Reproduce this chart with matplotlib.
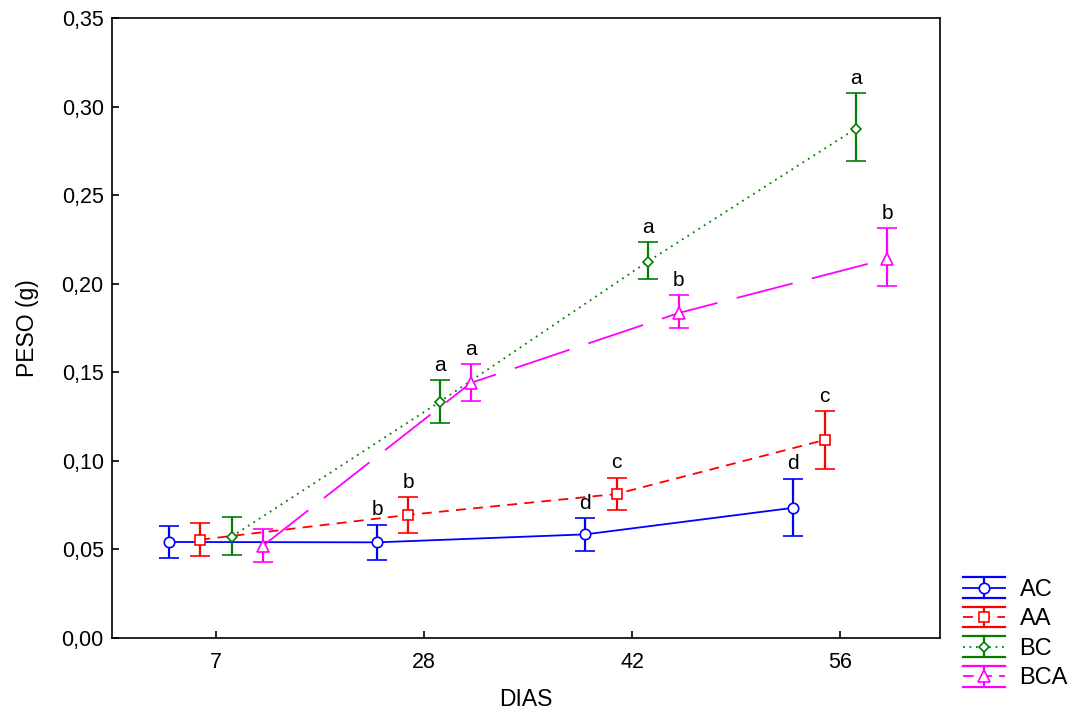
import numpy as np
import matplotlib.pyplot as plt
from matplotlib.ticker import FuncFormatter
from matplotlib.legend_handler import HandlerBase
from matplotlib.lines import Line2D

plt.rcParams['font.family'] = ['Liberation Sans', 'DejaVu Sans']

dias = ['7', '28', '42', '56']
series = ['AC', 'AA', 'BC', 'BCA']

ac_mean = [0.0542, 0.0540, 0.0585, 0.0735]
ac_lo = [0.0450, 0.0440, 0.0490, 0.0575]
ac_hi = [0.0635, 0.0640, 0.0675, 0.0900]
ac_letters = ['', 'b', 'd', 'd']

aa_mean = [0.0555, 0.0695, 0.0813, 0.1118]
aa_lo = [0.0465, 0.0595, 0.0720, 0.0955]
aa_hi = [0.0650, 0.0795, 0.0905, 0.1280]
aa_letters = ['', 'b', 'c', 'c']

bc_mean = [0.0572, 0.1333, 0.2125, 0.2875]
bc_lo = [0.0470, 0.1215, 0.2025, 0.2690]
bc_hi = [0.0685, 0.1455, 0.2235, 0.3075]
bc_letters = ['', 'a', 'a', 'a']

bca_mean = [0.0520, 0.1440, 0.1835, 0.2140]
bca_lo = [0.0430, 0.1340, 0.1750, 0.1985]
bca_hi = [0.0615, 0.1545, 0.1935, 0.2315]
bca_letters = ['', 'a', 'b', 'b']

styles = {
    'AC': dict(color='#0000ff', ls='-', marker='o', ms=7.5),
    'AA': dict(color='#ff0000', ls=(0, (5.5, 4)), marker='s', ms=7),
    'BC': dict(color='#007f00', ls=(0, (1, 2.6)), marker='D', ms=5.5),
    'BCA': dict(color='#ff00ff', ls=(0, (32, 11)), marker='^', ms=8),
}
offsets = [-0.225, -0.075, 0.075, 0.225]

data = [
    ('AC', ac_mean, ac_lo, ac_hi, ac_letters),
    ('AA', aa_mean, aa_lo, aa_hi, aa_letters),
    ('BC', bc_mean, bc_lo, bc_hi, bc_letters),
    ('BCA', bca_mean, bca_lo, bca_hi, bca_letters),
]


class ErrHandler(HandlerBase):
    # Statistica-like legend key: caps spanning the whole key width
    def __init__(self, st):
        super().__init__()
        self.st = st

    def create_artists(self, legend, orig_handle, xdescent, ydescent,
                       width, height, fontsize, trans):
        st = self.st
        c = st['color']
        yc = height / 2 - ydescent
        x0, x1 = -xdescent, width - xdescent
        xm = (x0 + x1) / 2
        dy = height * 0.53
        lstyle = st['ls'] if st['ls'] != (0, (32, 11)) else (0, (6, 4))
        arts = [
            Line2D([x0, x1], [yc, yc], color=c, ls=lstyle, lw=1.3),
            Line2D([x0, x1], [yc + dy, yc + dy], color=c, lw=1.6),
            Line2D([x0, x1], [yc - dy, yc - dy], color=c, lw=1.6),
            Line2D([xm, xm], [yc - dy, yc + dy], color=c, lw=1.6),
            Line2D([xm], [yc], marker=st['marker'], ms=st['ms'], mfc='white',
                   mec=c, mew=1.2, ls='none'),
        ]
        for a in arts:
            a.set_transform(trans)
        return arts


fig = plt.figure(figsize=(10.83, 7.15), dpi=100)
ax = fig.add_axes([0.1034, 0.1077, 0.7646, 0.8671])

x = np.arange(len(dias))
handles = []
handler_map = {}
for (name, mean, lo, hi, letters), off in zip(data, offsets):
    st = styles[name]
    mean = np.array(mean)
    yerr = [mean - np.array(lo), np.array(hi) - mean]
    eb = ax.errorbar(x + off, mean, yerr=yerr, color=st['color'], ls=st['ls'],
                     lw=1.3, marker=st['marker'], ms=st['ms'], mfc='white',
                     mec=st['color'], mew=1.2, capsize=7.5, capthick=1.6,
                     elinewidth=1.6, label=name)
    handles.append(eb)
    handler_map[eb] = ErrHandler(st)
    for xi, h, lt in zip(x + off, hi, letters):
        if lt:
            ax.text(xi, h + 0.003, lt, ha='center', va='bottom', fontsize=15)

ax.set_xlim(-0.5, 3.48)
ax.set_ylim(0, 0.35)
ax.set_xticks(x)
ax.set_xticklabels(dias)
ax.set_yticks(np.arange(0, 0.351, 0.05))
ax.yaxis.set_major_formatter(FuncFormatter(lambda v, p: f'{v:.2f}'.replace('.', ',')))
ax.tick_params(direction='in', labelsize=15.5, length=5, width=1.2)
ax.tick_params(axis='x', pad=10)
ax.tick_params(axis='y', pad=6)
for sp in ax.spines.values():
    sp.set_linewidth(1.2)

ax.set_xlabel('DIAS', fontsize=16.5, labelpad=11)
ax.set_ylabel('PESO (g)', fontsize=16.5, labelpad=16)

ax.legend(handles, series, handler_map=handler_map,
          loc='upper left', bbox_to_anchor=(0.889, 0.192), bbox_transform=fig.transFigure,
          frameon=False, fontsize=17, handlelength=1.78, handleheight=0.9,
          labelspacing=0.28, handletextpad=0.62, borderaxespad=0, borderpad=0)

fig.savefig('out.png', dpi=100)
